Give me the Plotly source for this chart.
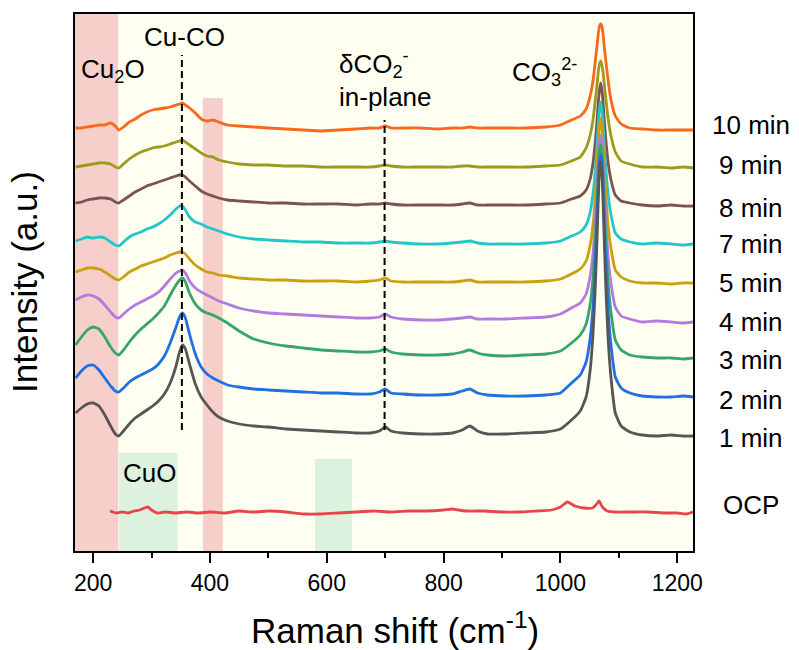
import plotly.graph_objects as go

# Raman shift grid (cm-1) shared by the time-resolved spectra
shift = [170, 180, 190, 200, 210, 220, 230, 238, 244, 252, 262, 272, 282, 292, 302,
         312, 322, 332, 342, 348, 353, 358, 365, 375, 385, 395, 405, 415, 430, 450,
         475, 500, 530, 560, 590, 620, 650, 675, 690, 700, 710, 730, 760, 790, 815,
         832, 845, 858, 875, 905, 940, 975, 1000, 1019, 1034, 1044, 1051, 1056, 1060,
         1063, 1065, 1067, 1069, 1071, 1073, 1075, 1078, 1082, 1087, 1094, 1104, 1119,
         1140, 1165, 1190, 1210, 1227]

# Stacked intensities (a.u.), one list per electrolysis time
i_10min = [423, 423, 424, 425, 426, 426, 428, 425, 421, 424, 429, 432, 436, 439, 441,
           442, 443, 444, 446, 447, 448, 446, 443, 438, 432, 430, 431, 429, 426, 425,
           424, 423, 422, 421, 420, 421, 422, 423, 423, 425, 423, 423, 423, 422, 423,
           423, 424, 423, 423, 423, 423, 424, 426, 431, 435, 442, 455, 471, 491,
           507, 518, 525, 527, 525, 517, 505, 489, 469, 450, 435, 427, 423,
           422, 421, 421, 421, 421]
i_9min = [384, 385, 386, 387, 388, 388, 387, 384, 383, 387, 392, 396, 399, 401, 403,
          404, 405, 407, 409, 410, 411, 409, 406, 402, 398, 395, 394, 391, 389, 387,
          386, 386, 385, 385, 384, 384, 384, 384, 385, 386, 385, 384, 384, 384, 384,
          385, 385, 384, 384, 384, 384, 385, 386, 390, 394, 403, 416, 432, 452,
          468, 480, 487, 490, 486, 479, 467, 451, 431, 414, 399, 390, 387,
          384, 384, 383, 384, 383]
i_8min = [348, 349, 351, 352, 353, 353, 352, 349, 348, 351, 355, 359, 362, 365, 367,
          369, 371, 373, 375, 376, 376, 374, 370, 365, 360, 357, 355, 353, 351, 350,
          349, 348, 348, 347, 347, 347, 346, 347, 347, 348, 347, 346, 346, 346, 346,
          347, 348, 346, 346, 346, 346, 347, 348, 352, 355, 361, 372, 389, 411,
          433, 450, 461, 468, 461, 449, 432, 410, 387, 370, 356, 350, 348,
          346, 345, 346, 345, 345]
i_7min = [310, 312, 314, 313, 314, 313, 309, 306, 305, 309, 314, 317, 319, 322, 324,
          327, 331, 336, 342, 345, 345, 341, 334, 329, 327, 324, 322, 320, 317, 314,
          312, 311, 310, 309, 309, 308, 308, 308, 309, 310, 309, 308, 307, 307, 308,
          309, 310, 308, 307, 307, 307, 308, 310, 315, 319, 326, 339, 358, 383,
          410, 428, 442, 449, 441, 427, 408, 381, 355, 335, 318, 312, 309,
          307, 308, 307, 306, 307]
i_5min = [279, 281, 283, 283, 282, 279, 275, 272, 271, 274, 279, 282, 285, 287, 289,
          291, 293, 296, 298, 299, 299, 297, 292, 286, 282, 279, 278, 276, 275, 273,
          272, 271, 271, 270, 270, 270, 269, 270, 271, 273, 270, 269, 269, 269, 269,
          270, 271, 269, 269, 269, 269, 270, 272, 277, 282, 290, 306, 327, 357,
          387, 410, 425, 433, 424, 408, 385, 354, 323, 301, 281, 274, 270,
          268, 268, 267, 268, 268]
i_4min = [251, 254, 256, 255, 252, 246, 239, 234, 233, 237, 242, 246, 249, 252, 255,
          259, 265, 272, 278, 280, 281, 278, 270, 263, 259, 256, 253, 250, 247, 243,
          240, 238, 237, 236, 235, 234, 233, 233, 234, 237, 234, 232, 231, 231, 232,
          233, 234, 232, 232, 232, 233, 234, 237, 243, 248, 257, 275, 299, 333,
          367, 391, 409, 416, 407, 388, 362, 327, 292, 266, 244, 235, 232,
          229, 230, 229, 228, 229]
i_3min = [206, 214, 221, 224, 222, 214, 204, 198, 196, 201, 209, 216, 222, 227, 232,
          238, 245, 256, 266, 271, 273, 269, 258, 247, 241, 238, 236, 233, 228, 220,
          212, 208, 205, 203, 201, 200, 199, 199, 200, 202, 199, 197, 196, 196, 197,
          199, 201, 198, 196, 195, 196, 197, 200, 208, 216, 227, 247, 275, 313,
          352, 381, 401, 406, 399, 377, 347, 306, 266, 237, 211, 201, 196,
          194, 193, 193, 192, 193]
i_2min = [173, 180, 185, 186, 181, 173, 165, 160, 159, 163, 169, 173, 176, 179, 182,
          187, 195, 208, 224, 234, 238, 233, 217, 197, 184, 177, 173, 170, 166, 164,
          162, 161, 160, 159, 158, 158, 157, 157, 159, 162, 158, 157, 156, 156, 157,
          160, 162, 158, 156, 155, 155, 156, 158, 168, 176, 189, 213, 246, 290,
          335, 367, 390, 396, 388, 363, 330, 283, 238, 204, 174, 163, 158,
          155, 154, 154, 155, 154]
i_1min = [138, 143, 147, 148, 145, 136, 125, 117, 115, 120, 127, 133, 137, 141, 145,
          150, 157, 168, 185, 199, 206, 202, 187, 167, 154, 146, 139, 134, 130, 127,
          125, 124, 122, 121, 120, 119, 118, 118, 120, 124, 120, 118, 117, 117, 118,
          121, 125, 120, 117, 117, 118, 119, 122, 131, 140, 154, 181, 219, 268,
          318, 355, 381, 389, 378, 350, 312, 260, 209, 171, 138, 125, 119,
          116, 115, 116, 115, 115]

# Open-circuit reference spectrum
ocp_shift = [229, 240, 250, 260, 270, 280, 288, 294, 300, 310, 325, 340, 360, 380, 400,
             425, 450, 475, 500, 530, 560, 590, 620, 650, 680, 710, 740, 770, 800, 815,
             825, 840, 870, 900, 930, 960, 985, 1000, 1012, 1025, 1040, 1055, 1062, 1066,
             1072, 1080, 1095, 1120, 1150, 1180, 1200, 1215, 1227]
i_ocp = [40, 38, 39, 38, 40, 41, 43, 44, 41, 38, 39, 38, 39, 38, 39,
         38, 40, 39, 40, 39, 37, 37, 38, 39, 40, 39, 40, 40, 41, 42,
         41, 40, 40, 39, 39, 40, 41, 44, 49, 45, 43, 43, 47, 50,
         44, 40, 39, 39, 39, 38, 38, 37, 39]

labels = ["10 min", "9 min", "8 min", "7 min", "5 min", "4 min", "3 min", "2 min", "1 min"]
series = [i_10min, i_9min, i_8min, i_7min, i_5min, i_4min, i_3min, i_2min, i_1min]
colors = ["#F8691C", "#9C9A1F", "#7B5353", "#22C6C9", "#C9A00E",
          "#B27BDF", "#35A56B", "#2070E2", "#565656"]
label_y = [426, 386, 343, 307, 268, 229, 191, 151, 113]
ocp_label_y = 46

# Band assignments: shaded ranges (x0, x1, top) and marker lines (x, y0, y1)
cu2o_bands = [(169, 243, 537), (388, 422, 453)]
cuo_bands = [(244, 345, 98), (580, 643, 92)]
band_lines = [(352, 121, 496), (699, 121, 431)]

x_range = [169, 1227]
y_range = [0, 537]

FONT = "Liberation Sans, Arial, sans-serif"

fig = go.Figure()

for name, ys, c in zip(labels, series, colors):
    fig.add_trace(go.Scatter(x=shift, y=ys, mode="lines", name=name,
                             line=dict(color=c, width=2.8, shape="spline", smoothing=0.5)))

fig.add_trace(go.Scatter(x=ocp_shift, y=i_ocp, mode="lines", name="OCP",
                         line=dict(color="#E8454A", width=2.8, shape="spline", smoothing=0.5)))

shapes = []
for x0, x1, top in cu2o_bands:
    shapes.append(dict(type="rect", xref="x", yref="y", x0=x0, x1=x1, y0=y_range[0], y1=top,
                       fillcolor="#F7CFCA", line=dict(width=0), layer="below"))
for x0, x1, top in cuo_bands:
    shapes.append(dict(type="rect", xref="x", yref="y", x0=x0, x1=x1, y0=y_range[0], y1=top,
                       fillcolor="#DDF2DE", line=dict(width=0), layer="below"))
for x, y0, y1 in band_lines:
    shapes.append(dict(type="line", xref="x", yref="y", x0=x, x1=x, y0=y0, y1=y1,
                       line=dict(color="black", width=2, dash="7px,4px"), layer="above"))

annotations = []
peak_text = [
    ("Cu<sub>2</sub>O", 234, 481),
    ("Cu-CO", 357, 514),
    ("δCO<sub>2</sub><sup>-</sup>", 681, 487),
    ("in-plane", 701, 454),
    ("CO<sub>3</sub><sup>2-</sup>", 972, 479),
    ("CuO", 297, 78),
]
for txt, x, y in peak_text:
    annotations.append(dict(text=txt, x=x, y=y, xref="x", yref="y", showarrow=False,
                            font=dict(family=FONT, size=26, color="black"),
                            xanchor="center", yanchor="middle"))

for txt, y in zip(labels + ["OCP"], label_y + [ocp_label_y]):
    annotations.append(dict(text=txt, x=1.094, y=y, xref="paper", yref="y", showarrow=False,
                            font=dict(family=FONT, size=26, color="black"),
                            xanchor="center", yanchor="middle"))

annotations.append(dict(text="Raman shift (cm<sup>-1</sup>)", x=0.518, y=-0.143,
                        xref="paper", yref="paper", showarrow=False,
                        font=dict(family=FONT, size=35, color="black"),
                        xanchor="center", yanchor="middle"))
annotations.append(dict(text="Intensity (a.u.)", x=-0.081, y=0.501, textangle=-90,
                        xref="paper", yref="paper", showarrow=False,
                        font=dict(family=FONT, size=35, color="black"),
                        xanchor="center", yanchor="middle"))

fig.update_layout(
    width=799, height=650,
    margin=dict(l=75, r=106, t=14, b=99),
    paper_bgcolor="white",
    plot_bgcolor="#FEFEF1",
    showlegend=False,
    shapes=shapes,
    annotations=annotations,
    font=dict(family=FONT, color="black"),
)

fig.update_xaxes(
    range=x_range, showgrid=False, zeroline=False,
    showline=True, mirror=True, linecolor="black", linewidth=2,
    ticks="outside", ticklen=10, tickwidth=2, tickcolor="black",
    tick0=0, dtick=200,
    tickfont=dict(family=FONT, size=23, color="black"),
    minor=dict(ticks="outside", ticklen=5, tickwidth=2, tickcolor="black", dtick=100, tick0=0, showgrid=False),
)
fig.update_yaxes(
    range=y_range, showgrid=False, zeroline=False,
    showline=True, mirror=True, linecolor="black", linewidth=2,
    ticks="", showticklabels=False,
)

fig.write_html("out.html")
